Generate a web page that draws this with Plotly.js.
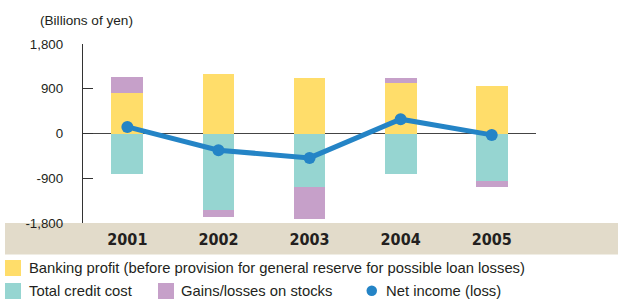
<!DOCTYPE html>
<html>
<head>
<meta charset="utf-8">
<script src="https://cdn.plot.ly/plotly-3.0.1.min.js"></script>
<style>html,body{margin:0;padding:0;background:#fff;}#chart{width:618px;height:300px;}</style>
</head>
<body>
<div id="chart"></div>
<script>
// ---- data ----
const years = ['2001', '2002', '2003', '2004', '2005'];
const bankingProfit = [815, 1198, 1117, 1017, 956];
const totalCreditCost = [-809, -1540, -1077, -809, -956];
const gainsLossesStocks = [322, -135, -644, 100, -121];
const netIncome = [133, -336, -491, 288, -28];
const yTickVals = [-1800, -900, 0, 900, 1800];
const yTickText = ['-1,800', '-900', '0', '900', '1,800'];
const legendLabels = [
  'Banking profit (before provision for general reserve for possible loan losses)',
  'Total credit cost',
  'Gains/losses on stocks',
  'Net income (loss)'
];
const unitLabel = '(Billions of yen)';

// ---- style ----
const C = {yellow:'#FFDD6A', teal:'#96D5D1', purple:'#C6A0C9', blue:'#2484C6', band:'#E2DBCA', text:'#231F20', axis:'#333333'};
const L = 83, R = 82, T = 44, B = 77, W = 618, H = 300;
const pw = W - L - R, ph = H - T - B;
const px = x => (x - L) / pw;          // pixel -> paper x
const py = y => (H - B - y) / ph;      // pixel -> paper y
const xi = years.map((_, i) => i);

const bw = 0.35;
const traces = [
  {type:'bar', x:xi, y:bankingProfit, width:bw, marker:{color:C.yellow, line:{width:0}}, name:legendLabels[0], showlegend:false, hoverinfo:'skip'},
  {type:'bar', x:xi, y:totalCreditCost, width:bw, marker:{color:C.teal, line:{width:0}}, name:legendLabels[1], showlegend:false, hoverinfo:'skip'},
  {type:'bar', x:xi, y:gainsLossesStocks, width:bw, marker:{color:C.purple, line:{width:0}}, name:legendLabels[2], showlegend:false, hoverinfo:'skip'},
  {type:'scatter', mode:'lines+markers', x:xi, y:netIncome, line:{color:C.blue, width:5}, marker:{color:C.blue, size:12}, name:legendLabels[3], showlegend:false, hoverinfo:'skip'}
];

const font = 'Liberation Sans, Arial, Helvetica, sans-serif';
const shapes = [
  {type:'rect', xref:'paper', yref:'paper', x0:px(5), x1:px(620), y0:py(254.5), y1:py(223), fillcolor:C.band, line:{width:0}, layer:'below'},
  // legend swatches
  {type:'rect', xref:'paper', yref:'paper', x0:px(5), x1:px(21), y0:py(276), y1:py(260), fillcolor:C.yellow, line:{width:0}},
  {type:'rect', xref:'paper', yref:'paper', x0:px(5), x1:px(21), y0:py(299), y1:py(283), fillcolor:C.teal, line:{width:0}},
  {type:'rect', xref:'paper', yref:'paper', x0:px(158), x1:px(174), y0:py(299), y1:py(283), fillcolor:C.purple, line:{width:0}},
  {type:'circle', xref:'paper', yref:'paper', x0:px(366.5), x1:px(377), y0:py(296), y1:py(285.5), fillcolor:C.blue, line:{width:0}}
];
const ann = (x, y, text) => ({xref:'paper', yref:'paper', x:px(x), y:py(y), xanchor:'left', yanchor:'middle', text:text, showarrow:false, font:{family:font, size:14.8, color:C.text}});
const annotations = [
  ann(27, 268, legendLabels[0]),
  ann(27, 290.5, legendLabels[1]),
  ann(179, 290.5, legendLabels[2]),
  ann(384, 290.5, legendLabels[3]),
  {xref:'paper', yref:'paper', x:px(38), y:py(21), xanchor:'left', yanchor:'middle', text:unitLabel, showarrow:false, font:{family:font, size:13.6, color:C.text}}
];

const layout = {
  width:W, height:H, margin:{l:L, r:R, t:T, b:B, pad:0},
  paper_bgcolor:'#fff', plot_bgcolor:'rgba(0,0,0,0)',
  barmode:'relative', bargap:0,
  showlegend:false,
  font:{family:font, size:13, color:C.text},
  xaxis:{
    type:'linear', range:[-0.487, 4.486], tickvals:xi, ticktext:years,
    showgrid:false, zeroline:false, showline:false, ticks:'',
    tickfont:{family:'DejaVu Sans Condensed, Liberation Sans Narrow, Arial Narrow, sans-serif', size:16, color:C.text, weight:'bold'},
    ticklabelstandoff:5, fixedrange:true
  },
  yaxis:{
    range:[-1800, 1800], tickvals:yTickVals, ticktext:yTickText,
    showgrid:false, zeroline:true, zerolinecolor:'#444', zerolinewidth:1.5,
    showline:true, linecolor:C.axis, linewidth:1.2,
    ticks:'inside', ticklen:10, tickcolor:C.axis, tickwidth:1.2,
    tickfont:{family:font, size:13.3, color:C.text}, ticklabelstandoff:16, fixedrange:true
  },
  shapes:shapes, annotations:annotations
};

Plotly.newPlot('chart', traces, layout, {displayModeBar:false, staticPlot:true});
</script>
</body>
</html>
